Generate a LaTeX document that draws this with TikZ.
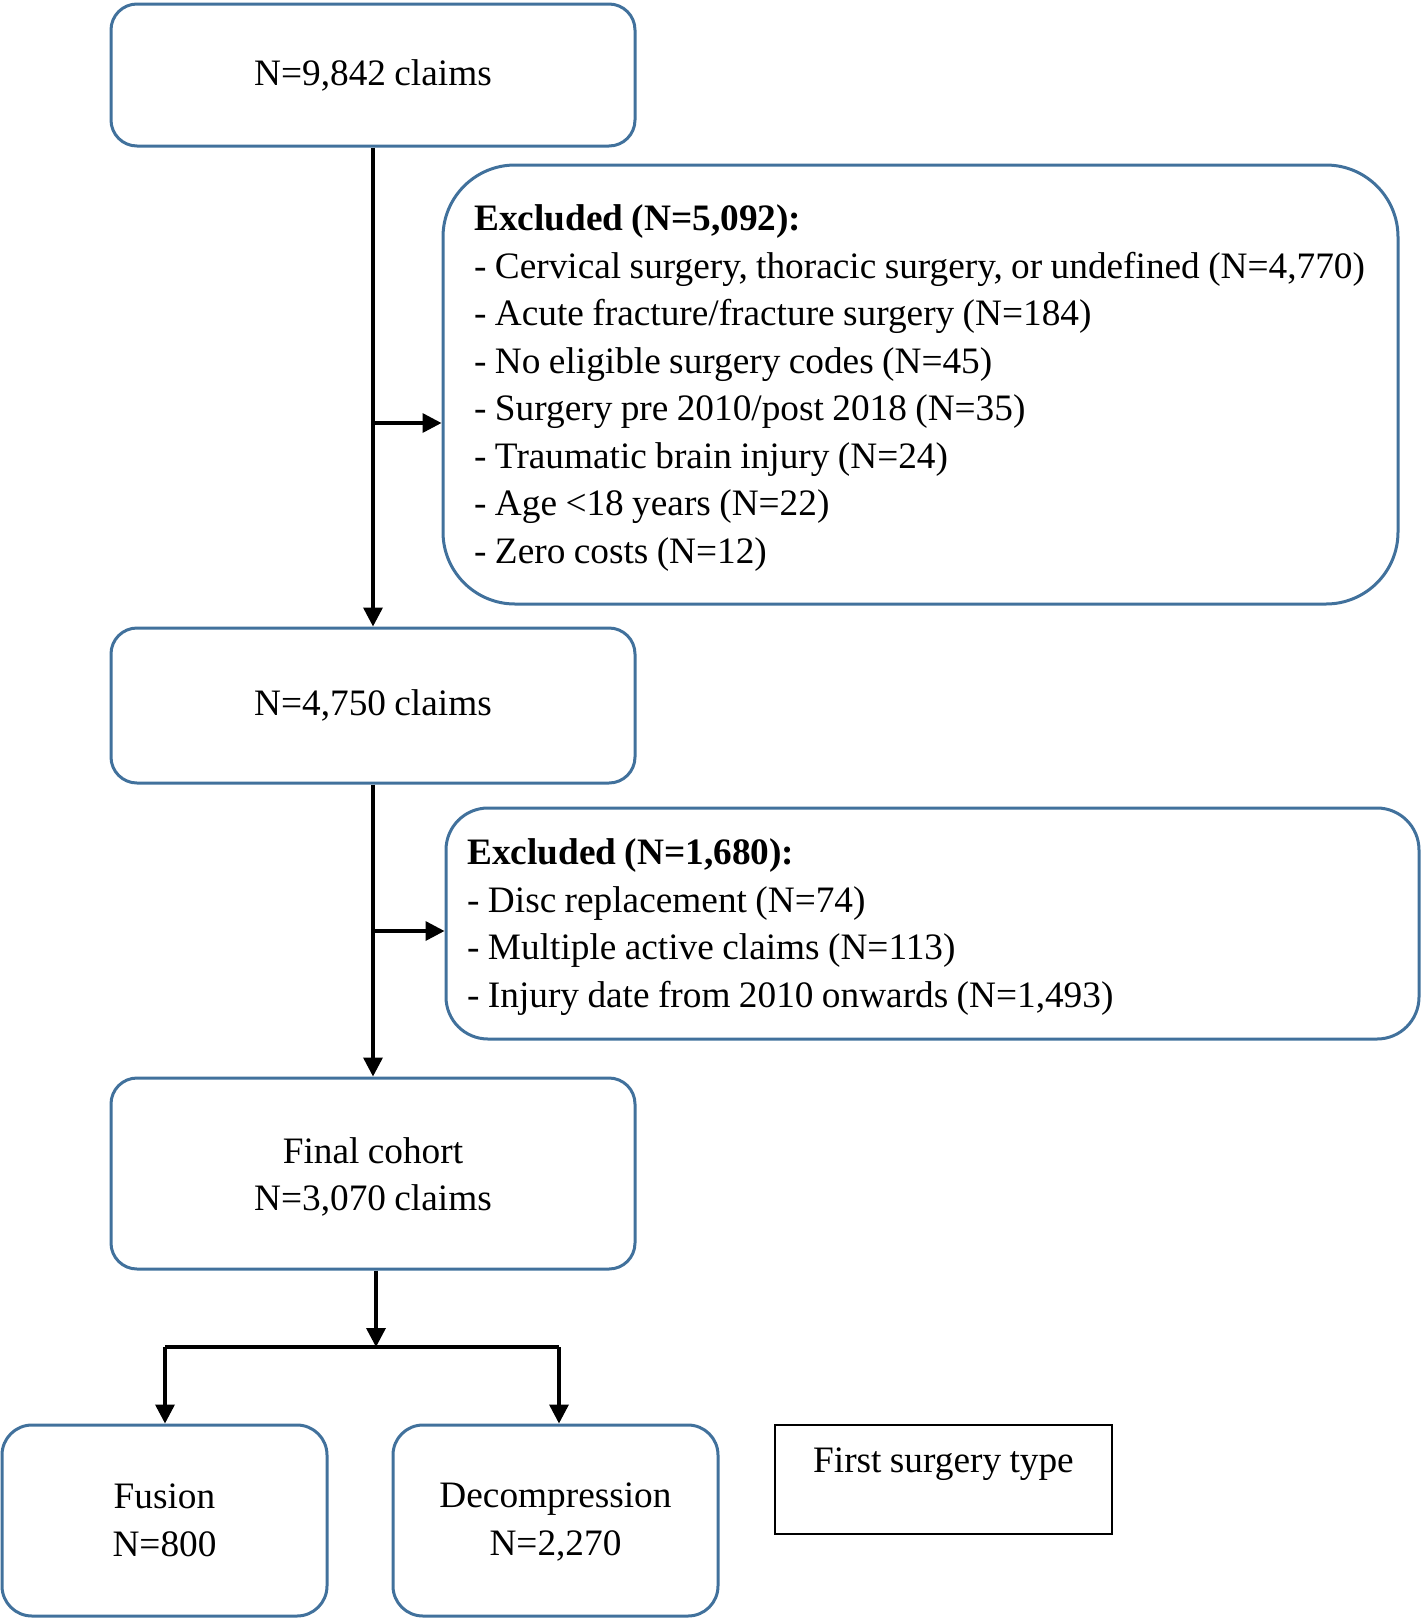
\documentclass[tikz,border=0pt]{standalone}
\usepackage{fontspec}
\setmainfont{Liberation Serif}[WordSpace=0.9]
\usetikzlibrary{arrows.meta}
\definecolor{boxblue}{RGB}{65,113,156}
\tikzset{
  rbox/.style={draw=boxblue, line width=3pt, rounded corners=26pt, align=center,
    font=\fontsize{37.3}{47.5}\selectfont, inner sep=0pt},
  exbox/.style={draw=boxblue, line width=3pt},
  extext/.style={align=left, anchor=west, inner sep=0pt,
    font=\fontsize{37.3}{47.5}\selectfont},
  arr/.style={line width=3.5pt, -{Triangle[length=19pt,width=19pt]}},
  plainline/.style={line width=3.5pt}
}
\begin{document}
\begin{tikzpicture}[x=1pt,y=-1pt]
\useasboundingbox (0,0) rectangle (1421,1618);
\node[rbox, minimum width=524pt, minimum height=142pt] (b1) at (373,75) {N=9,842 claims};
\node[exbox, rounded corners=72pt, minimum width=955pt, minimum height=439pt] (ex1) at (920.5,384.5) {};
\node[extext] (ex1t) at (474,388)
 {\textbf{Excluded (N=5,092):}\\
  - Cervical surgery, thoracic surgery, or undefined (N=4,770)\\
  - Acute fracture/fracture surgery (N=184)\\
  - No eligible surgery codes (N=45)\\
  - Surgery pre 2010/post 2018 (N=35)\\
  - Traumatic brain injury (N=24)\\
  - Age {<}18 years (N=22)\\
  - Zero costs (N=12)};
\node[rbox, minimum width=524pt, minimum height=155pt] (b2) at (373,705.5) {N=4,750 claims};
\node[exbox, rounded corners=42pt, minimum width=973pt, minimum height=231pt] (ex2) at (932.5,923.5) {};
\node[extext] (ex2t) at (467,927)
 {\textbf{Excluded (N=1,680):}\\
  - Disc replacement (N=74)\\
  - Multiple active claims (N=113)\\
  - Injury date from 2010 onwards (N=1,493)};
\node[rbox, minimum width=524pt, minimum height=191pt] (b3) at (373,1173.5) {};
\node[font=\fontsize{37.3}{47.5}\selectfont, align=center, inner sep=0pt] (b3t) at (373,1177) {Final cohort\\N=3,070 claims};
\node[rbox, rounded corners=30pt, minimum width=325pt, minimum height=191pt] (fus) at (164.5,1520.5) {Fusion\\N=800};
\node[rbox, rounded corners=30pt, minimum width=325pt, minimum height=191pt] (dec) at (555.5,1520.5) {};
\node[font=\fontsize{37.3}{47.5}\selectfont, align=center, inner sep=0pt] (dect) at (555.5,1522) {Decompression\\N=2,270};
\node[draw=black, line width=2pt, minimum width=337pt, minimum height=109pt] (fst) at (943.5,1479.5) {};
\node[font=\fontsize{37.3}{47.5}\selectfont, inner sep=0pt] (fstt) at (943.5,1464) {First surgery type};
\draw[arr] (b1.south) -- (b2.north);
\coordinate (j1) at (374,423);
\draw[arr] (j1) -- (j1 -| ex1.west);
\draw[arr] (b2.south) -- (b3.north);
\coordinate (j2) at (374,931);
\draw[arr] (j2) -- (j2 -| ex2.west);
\coordinate (sp) at (376,1347);
\draw[arr] (b3.south -| sp) -- (sp);
\coordinate (spl) at (165,1347);
\coordinate (spr) at (559,1347);
\draw[plainline] (spl) -- (spr);
\draw[arr] (spl) -- (spl |- fus.north);
\draw[arr] (spr) -- (spr |- dec.north);
\end{tikzpicture}
\end{document}
